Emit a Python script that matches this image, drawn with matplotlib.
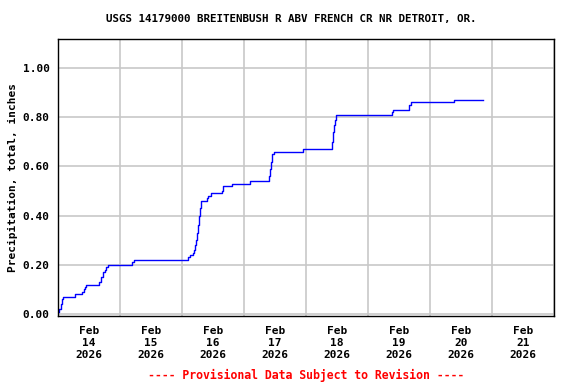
# USGS cumulative precipitation chart
import numpy as np
import matplotlib.pyplot as plt
import matplotlib.dates as mdates

# Data: hours since 2026-02-14 00:00 and cumulative precipitation (inches)
hours = np.array([0.0, 0.5, 1.0, 1.5, 2.0, 6.6, 9.3, 10.0, 10.5, 10.8,
                  15.9, 16.6, 17.4, 18.2, 18.6, 19.4, 28.6, 29.4,
                  50.3, 51.1, 52.3, 52.6, 53.0, 53.4, 53.8, 54.2, 54.6, 55.0, 55.4,
                  57.7, 58.1, 59.2, 63.5, 63.9, 67.4, 74.3,
                  81.7, 82.1, 82.5, 82.8, 83.6, 94.8,
                  106.0, 106.5, 106.8, 107.2, 107.6,
                  129.3, 129.7, 135.9, 136.6, 153.3, 164.5])
precip = np.array([0.01, 0.02, 0.04, 0.06, 0.07, 0.08, 0.09, 0.10, 0.11, 0.12,
                   0.13, 0.15, 0.17, 0.18, 0.19, 0.20, 0.21, 0.22,
                   0.23, 0.24, 0.25, 0.26, 0.28, 0.30, 0.33, 0.36, 0.40, 0.43, 0.46,
                   0.47, 0.48, 0.49, 0.50, 0.52, 0.53, 0.54,
                   0.56, 0.59, 0.62, 0.65, 0.66, 0.67,
                   0.70, 0.74, 0.77, 0.79, 0.81,
                   0.82, 0.83, 0.85, 0.86, 0.87, 0.87])

start = np.datetime64('2026-02-14T00:00')
times = start + np.round(hours * 60).astype(int).astype('timedelta64[m]')

title = 'USGS 14179000 BREITENBUSH R ABV FRENCH CR NR DETROIT, OR.'
ylabel = 'Precipitation, total, inches'
footer = '---- Provisional Data Subject to Revision ----'

font = 'DejaVu Sans Mono'

fig = plt.figure(figsize=(5.76, 3.84), dpi=100)
ax = fig.add_axes([0.1007, 0.1771, 0.8611, 0.7213])

ax.plot(times, precip, color='#0000ff', lw=1.0, drawstyle='steps-post')

ax.set_xlim(start, start + np.timedelta64(8, 'D'))
ax.set_ylim(-0.008, 1.118)

ax.xaxis.set_major_locator(mdates.DayLocator())
ax.xaxis.set_major_formatter(plt.NullFormatter())
ax.xaxis.set_minor_locator(mdates.HourLocator(byhour=[12]))
ax.xaxis.set_minor_formatter(mdates.DateFormatter('%b\n%d\n%Y'))
ax.set_yticks(np.arange(0, 1.01, 0.2))
ax.yaxis.set_major_formatter(plt.FuncFormatter(lambda v, p: f'{v:.2f}'))

ax.tick_params(which='both', length=0)
ax.tick_params(axis='x', which='minor', pad=7)
ax.tick_params(axis='y', pad=6)
for lab in ax.get_xticklabels(minor=True) + ax.get_yticklabels():
    lab.set_fontfamily(font)
    lab.set_fontweight('bold')
    lab.set_fontsize(8)
for lab in ax.get_xticklabels(minor=True):
    lab.set_multialignment('center')
    lab.set_linespacing(1.25)

ax.grid(True, which='major', color='#c8c8c8', lw=1.2)
ax.set_axisbelow(True)
for s in ax.spines.values():
    s.set_linewidth(1.0)
    s.set_color('black')

ax.set_ylabel(ylabel, family=font, weight='bold', fontsize=8)
ax.yaxis.set_label_coords(-0.08, 0.5)

fig.text(0.506, 0.95, title, ha='center', va='center', family=font,
         weight='bold', fontsize=7.8)
fig.text(0.531, 0.023, footer, ha='center', va='center', family=font,
         weight='bold', fontsize=8.3, color='red')

fig.savefig('out.png', dpi=100)
